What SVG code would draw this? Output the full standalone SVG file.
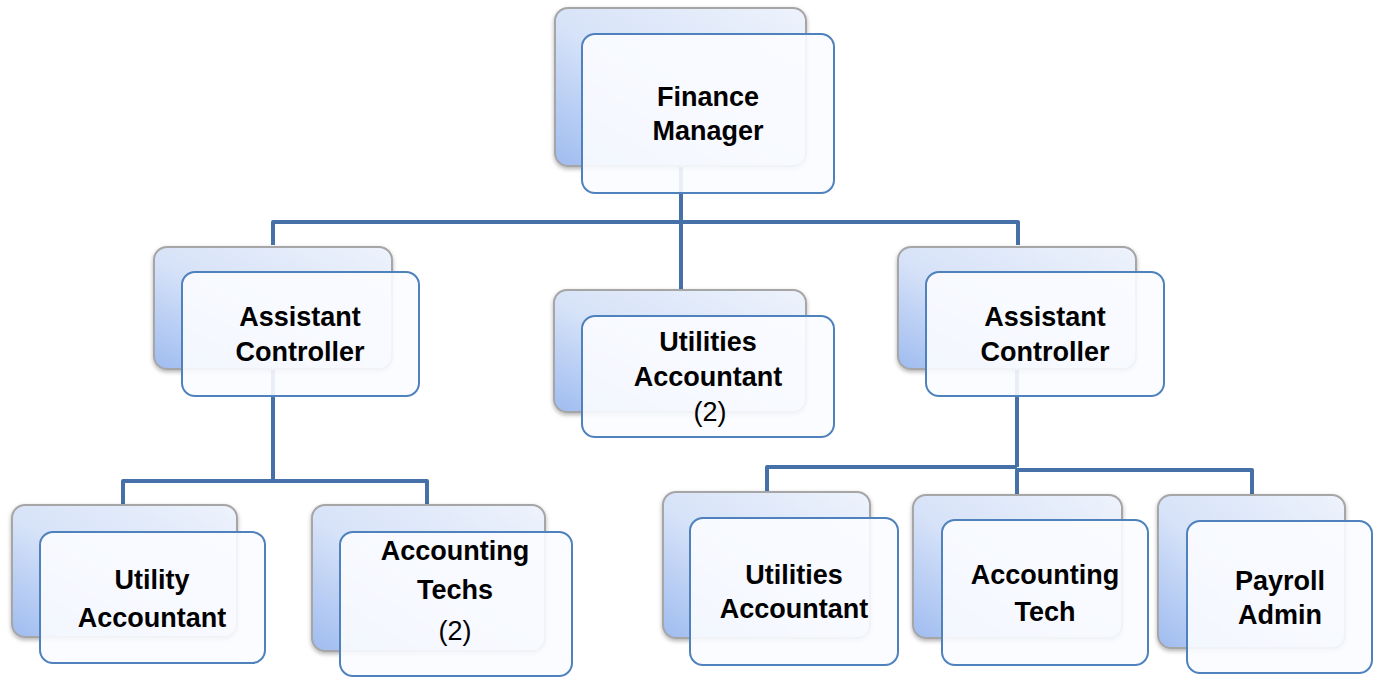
<svg xmlns="http://www.w3.org/2000/svg" width="1374" height="677" viewBox="0 0 1374 677">
  <defs>
    <linearGradient id="backFill" x1="1" y1="0" x2="0" y2="1">
      <stop offset="0" stop-color="#eef3fc"/>
      <stop offset="0.55" stop-color="#d6e2f8"/>
      <stop offset="1" stop-color="#9fbcf0"/>
    </linearGradient>
    <filter id="shadow" x="-10%" y="-10%" width="120%" height="125%">
      <feDropShadow dx="0" dy="2" stdDeviation="2" flood-color="#000" flood-opacity="0.3"/>
    </filter>
  </defs>
  <style>
    .back { fill: url(#backFill); stroke: #a6a6a6; stroke-width: 2; filter: url(#shadow); }
    .front { fill: #fbfcff; fill-opacity: 0.9; stroke: #4f81bd; stroke-width: 2; }
    .link { fill: none; stroke: #4670a8; stroke-width: 4; stroke-linejoin: round; }
    .t { font-family: "Liberation Sans", Arial, sans-serif; font-size: 27px; font-weight: bold; fill: #000; text-anchor: middle; }
    .n { font-family: "Liberation Sans", Arial, sans-serif; font-size: 27px; font-weight: normal; fill: #000; text-anchor: middle; }
  </style>
  <rect width="1374" height="677" fill="#ffffff"/>

  <g id="connectors">
    <path class="link" d="M681 166 V222 M273 245 V222 H1018 V245 M681 222 V289"/>
    <path class="link" d="M273 370 V481 M123 504 V481 H427 V504"/>
    <path class="link" d="M1017 370 V467 M767 492 V467 H1017 M1017 494 V470 H1252 V494"/>
  </g>

  <g id="finance-manager">
    <rect class="back" x="555" y="8" width="251" height="158" rx="13"/>
    <rect class="front" x="582" y="34" width="252" height="159" rx="13"/>
    <text class="t" x="708" y="106">Finance</text>
    <text class="t" x="708" y="140">Manager</text>
  </g>

  <g id="assistant-controller-left">
    <rect class="back" x="154" y="247" width="238" height="122" rx="13"/>
    <rect class="front" x="182" y="272" width="237" height="124" rx="13"/>
    <text class="t" x="300" y="326">Assistant</text>
    <text class="t" x="300" y="361">Controller</text>
  </g>

  <g id="utilities-accountant-mid">
    <rect class="back" x="554" y="290" width="252" height="122" rx="13"/>
    <rect class="front" x="582" y="316" width="252" height="121" rx="13"/>
    <text class="t" x="708" y="351">Utilities</text>
    <text class="t" x="708" y="386">Accountant</text>
    <text class="n" x="710" y="421">(2)</text>
  </g>

  <g id="assistant-controller-right">
    <rect class="back" x="898" y="247" width="238" height="122" rx="13"/>
    <rect class="front" x="926" y="272" width="238" height="124" rx="13"/>
    <text class="t" x="1045" y="326">Assistant</text>
    <text class="t" x="1045" y="361">Controller</text>
  </g>

  <g id="utility-accountant">
    <rect class="back" x="12" y="505" width="225" height="132" rx="13"/>
    <rect class="front" x="40" y="532" width="225" height="131" rx="13"/>
    <text class="t" x="152" y="589">Utility</text>
    <text class="t" x="152" y="627">Accountant</text>
  </g>

  <g id="accounting-techs">
    <rect class="back" x="312" y="505" width="233" height="146" rx="13"/>
    <rect class="front" x="340" y="532" width="232" height="144" rx="13"/>
    <text class="t" x="455" y="560">Accounting</text>
    <text class="t" x="455" y="599">Techs</text>
    <text class="n" x="455" y="640">(2)</text>
  </g>

  <g id="utilities-accountant-right">
    <rect class="back" x="663" y="492" width="207" height="146" rx="13"/>
    <rect class="front" x="690" y="518" width="208" height="147" rx="13"/>
    <text class="t" x="794" y="584">Utilities</text>
    <text class="t" x="794" y="618">Accountant</text>
  </g>

  <g id="accounting-tech">
    <rect class="back" x="913" y="495" width="209" height="143" rx="13"/>
    <rect class="front" x="942" y="520" width="206" height="145" rx="13"/>
    <text class="t" x="1045" y="584">Accounting</text>
    <text class="t" x="1045" y="621">Tech</text>
  </g>

  <g id="payroll-admin">
    <rect class="back" x="1158" y="495" width="187" height="153" rx="13"/>
    <rect class="front" x="1187" y="521" width="185" height="152" rx="13"/>
    <text class="t" x="1280" y="590">Payroll</text>
    <text class="t" x="1280" y="624">Admin</text>
  </g>
</svg>
